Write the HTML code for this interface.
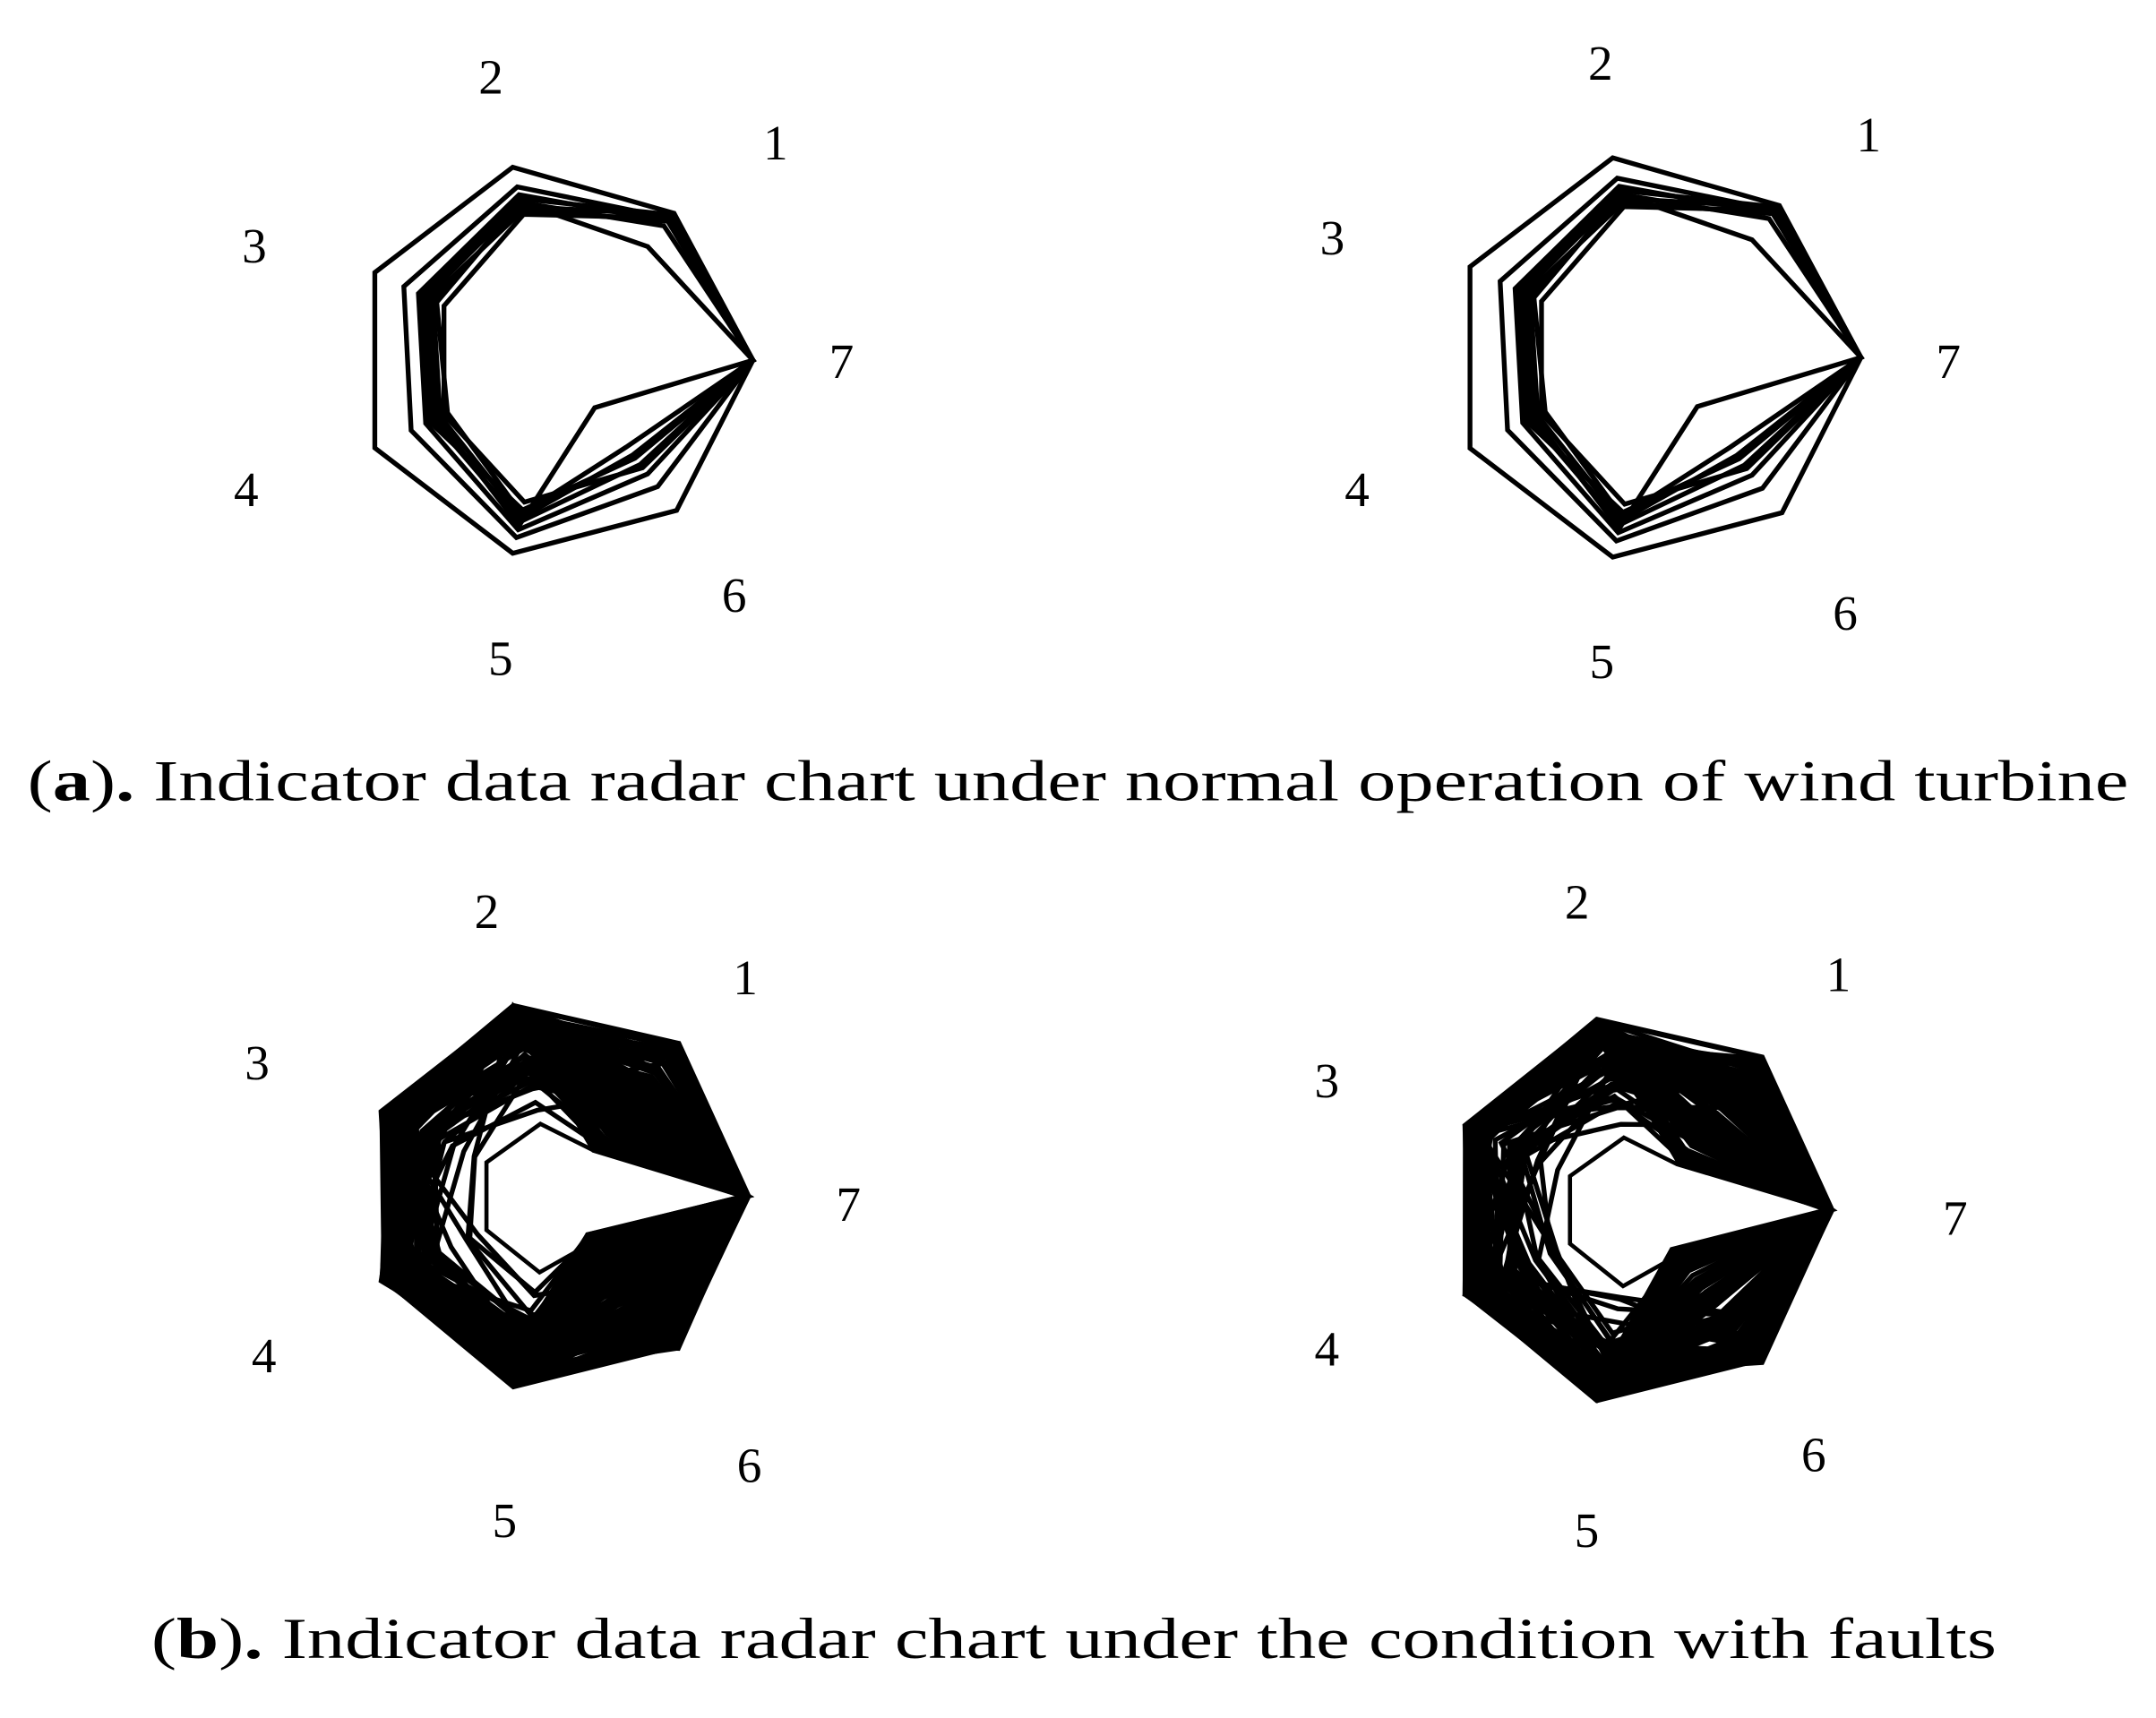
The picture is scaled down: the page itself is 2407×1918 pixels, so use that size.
<!DOCTYPE html>
<html><head><meta charset="utf-8"><style>
html,body{margin:0;padding:0;background:#fff}
svg{display:block}
text{font-family:"Liberation Serif",serif;fill:#000}
</style></head><body>
<svg id="s" width="2407" height="1918" viewBox="0 0 1568 1249.5" preserveAspectRatio="none" xmlns="http://www.w3.org/2000/svg">
<rect width="1568" height="1250" fill="#fff"/>
<g id="charts" fill="none" stroke="#000" stroke-linejoin="miter" stroke-width="3.5"></g>
<g font-size="36">
<text x="348" y="68">2</text><text x="555" y="116">1</text><text x="176" y="191">3</text><text x="603" y="275">7</text><text x="170" y="368">4</text><text x="525" y="445">6</text><text x="355" y="491">5</text>
<text x="1155" y="58">2</text><text x="1350" y="110">1</text><text x="960" y="185">3</text><text x="1408" y="275">7</text><text x="978" y="368">4</text><text x="1333" y="458">6</text><text x="1156" y="493">5</text>
<text x="345" y="675">2</text><text x="533" y="723">1</text><text x="178" y="785">3</text><text x="608" y="888">7</text><text x="183" y="998">4</text><text x="536" y="1078">6</text><text x="358" y="1118">5</text>
<text x="1138" y="668">2</text><text x="1328" y="721">1</text><text x="956" y="798">3</text><text x="1413" y="898">7</text><text x="956" y="993">4</text><text x="1310" y="1070">6</text><text x="1145" y="1125">5</text>
</g>
<g font-size="42">
<text x="20" y="582" textLength="1528" lengthAdjust="spacingAndGlyphs">(<tspan font-weight="bold">a</tspan>)<tspan font-weight="bold">.</tspan> Indicator data radar chart under normal operation of wind turbine</text>
<text x="110" y="1206" textLength="1342" lengthAdjust="spacingAndGlyphs">(<tspan font-weight="bold">b</tspan>)<tspan font-weight="bold">.</tspan> Indicator data radar chart under the condition with faults</text>
</g>
</svg>
<script>
(function(){
var g=document.getElementById('charts');
var seed=7;function rnd(){seed=(seed*16807)%2147483647;return seed/2147483647;}
function poly(cx,cy,R,rs,sw){
  var pts=[];
  for(var k=1;k<=7;k++){var a=(7-k)*2*Math.PI/7;var r=R*rs[k-1];pts.push((cx+r*Math.cos(a)).toFixed(1)+','+(cy+r*Math.sin(a)).toFixed(1));}
  var p=document.createElementNS('http://www.w3.org/2000/svg','polygon');
  p.setAttribute('points',pts.join(' '));if(sw)p.setAttribute('stroke-width',sw);g.appendChild(p);
}
function normal(cx,cy,R){
  var L=[[0.93,0.98,1.0,1.0,0.98,0.95,0.97],[0.9,0.88,0.84,0.8,0.9,0.8,0.97],[0.88,0.84,0.76,0.72,0.86,0.72,0.97],
  [0.85,0.8,0.72,0.68,0.82,0.66,0.97],[0.92,0.78,0.68,0.64,0.8,0.6,0.97],[0.72,0.8,0.66,0.6,0.78,0.55,0.97],
  [0.88,0.76,0.7,0.66,0.84,0.3,0.97],[0.92,0.82,0.74,0.7,0.76,0.62,0.97],[0.9,0.74,0.62,0.62,0.72,0.68,0.97]];
  L.forEach(function(r){poly(cx,cy,R,r);});
}
function fault(cx,cy,R,n){
  for(var i=0;i<n;i++){
    var u=rnd();
    var base=u<0.65?0.85:(u<0.85?0.65:0.45);
    var r=[0.3+rnd()*0.7, base+rnd()*(1-base), base+rnd()*(1-base), base+rnd()*(1-base), base+rnd()*(1-base), 0.25+rnd()*0.75, 0.95+rnd()*0.03];
    poly(cx,cy,R,r,3.5);
  }
  poly(cx,cy,R,[1,1,0.98,0.98,1,0.98,0.98],4);
  poly(cx,cy,R,[0.3,0.38,0.4,0.4,0.4,0.3,0.97],3);
}
normal(405,262,147);
normal(1206,260,152);
fault(405,870,142,110);
fault(1193,880,142,95);
})();
</script>
</body></html>
